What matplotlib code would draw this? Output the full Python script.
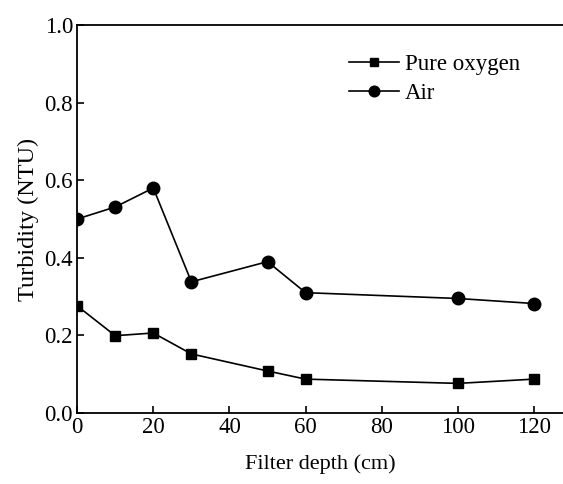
import matplotlib.pyplot as plt

plt.rcParams['font.family'] = ['Liberation Serif', 'DejaVu Serif']

depth = [0, 10, 20, 30, 50, 60, 100, 120]
pure_oxygen = [0.276, 0.199, 0.206, 0.152, 0.108, 0.087, 0.076, 0.087]
air = [0.500, 0.531, 0.580, 0.338, 0.390, 0.310, 0.295, 0.282]

fig = plt.figure(figsize=(5.63, 4.84), dpi=100)
ax = fig.add_axes([0.137, 0.147, 0.863, 0.801])

ax.plot(depth, pure_oxygen, 'k-', marker='s', markersize=7.5, linewidth=1.2, label='Pure oxygen')
ax.plot(depth, air, 'k-', marker='o', markersize=9, linewidth=1.2, label='Air')

ax.set_xlim(0, 127.6)
ax.set_ylim(0, 1.0)
ax.set_xticks([0, 20, 40, 60, 80, 100, 120])
ax.set_yticks([0.0, 0.2, 0.4, 0.6, 0.8, 1.0])
ax.set_yticklabels(['0.0', '0.2', '0.4', '0.6', '0.8', '1.0'])
ax.tick_params(direction='in', length=5, width=1.2, labelsize=16.5, pad=3)
ax.spines['right'].set_visible(False)
for s in ['left', 'top', 'bottom']:
    ax.spines[s].set_linewidth(1.3)

ax.set_xlabel('Filter depth (cm)', fontsize=16, labelpad=12)
ax.set_ylabel('Turbidity (NTU)', fontsize=17.5, labelpad=4)

ax.legend(loc='upper left', bbox_to_anchor=(0.535, 0.955), frameon=False, fontsize=16.5,
          handlelength=2.2, handletextpad=0.25, labelspacing=0.35, borderpad=0,
          markerscale=0.85)

fig.savefig('out.png', dpi=100)
